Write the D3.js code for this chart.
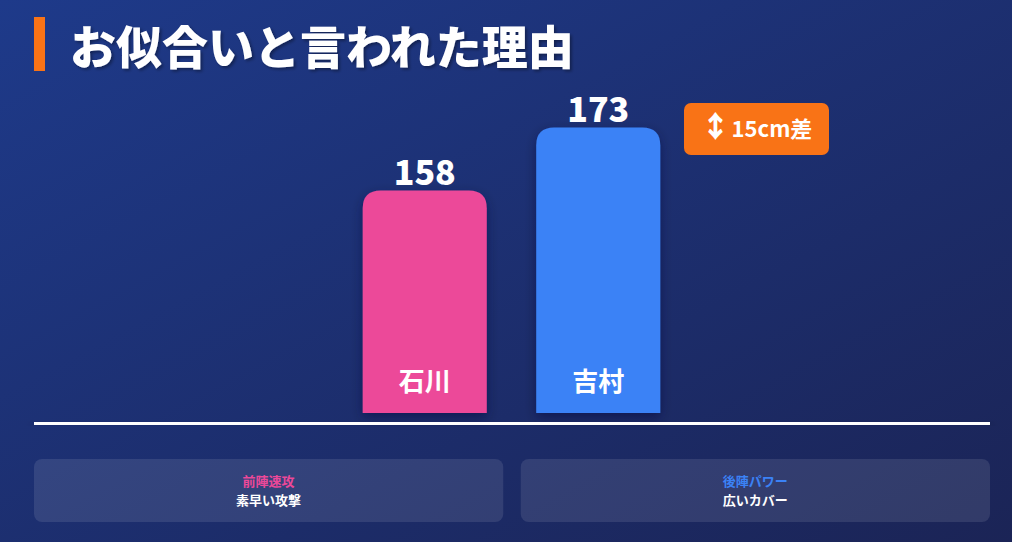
<!DOCTYPE html>
<html>
<head>
<meta charset="utf-8">
<script src="https://cdn.jsdelivr.net/npm/d3@7"></script>
<style>
  body { margin: 0; background: #1c2c6e; overflow: hidden; }
  svg { display: block; font-family: "Noto Sans CJK JP", "Noto Sans", sans-serif; }
</style>
</head>
<body>
<div id="chart"></div>
<script>
// data
var names = ["石川", "吉村"];
var heights = [158, 173];
var barColors = ["#ec4899", "#3b82f6"];
var roles = ["前陣速攻", "後陣パワー"];
var roleNotes = ["素早い攻撃", "広いカバー"];
var titleText = "お似合いと言われた理由";
var diffArrow = "↕";
var diffText = "15cm差";

var W = 1012, H = 542;
var baseY = 413;

var svg = d3.select("#chart").append("svg")
    .attr("width", W)
    .attr("height", H);

var defs = svg.append("defs");
var bg = defs.append("linearGradient")
    .attr("id", "bg")
    .attr("x1", "0%").attr("y1", "0%")
    .attr("x2", "100%").attr("y2", "100%");
bg.append("stop").attr("offset", "0%").attr("stop-color", "#1e3a8a");
bg.append("stop").attr("offset", "100%").attr("stop-color", "#1b2456");

var shadow = defs.append("filter").attr("id", "shadow")
    .attr("x", "-30%").attr("y", "-30%").attr("width", "160%").attr("height", "160%");
shadow.append("feDropShadow")
    .attr("dx", 0).attr("dy", 4).attr("stdDeviation", 6)
    .attr("flood-color", "#0b1030").attr("flood-opacity", 0.45);

var tshadow = defs.append("filter").attr("id", "tshadow")
    .attr("x", "-10%").attr("y", "-30%").attr("width", "120%").attr("height", "160%");
tshadow.append("feDropShadow")
    .attr("dx", 2).attr("dy", 2).attr("stdDeviation", 1.5)
    .attr("flood-color", "#000").attr("flood-opacity", 0.35);

svg.append("rect").attr("width", W).attr("height", H).attr("fill", "url(#bg)");

// title
svg.append("rect")
    .attr("x", 34).attr("y", 17).attr("width", 11).attr("height", 54)
    .attr("fill", "#f97316");
svg.append("text")
    .attr("x", 70).attr("y", 64)
    .attr("fill", "#fff")
    .attr("font-size", 46)
    .attr("font-weight", 900)
    .attr("filter", "url(#tshadow)")
    .text(titleText);

// scales
var x = d3.scaleBand()
    .domain(names)
    .range([338, 685])
    .paddingInner(0.285)
    .paddingOuter(0.1425);
var y = d3.scaleLinear()
    .domain([105, 180])
    .range([baseY, 98]);

function topRounded(x0, y0, w, h, r) {
    return "M" + x0 + "," + (y0 + h) +
        "V" + (y0 + r) +
        "Q" + x0 + "," + y0 + " " + (x0 + r) + "," + y0 +
        "H" + (x0 + w - r) +
        "Q" + (x0 + w) + "," + y0 + " " + (x0 + w) + "," + (y0 + r) +
        "V" + (y0 + h) + "Z";
}

var bars = svg.append("g").selectAll("g")
    .data(names)
    .enter().append("g");

bars.append("path")
    .attr("d", function(d, i) {
        return topRounded(x(d), y(heights[i]), x.bandwidth(), baseY - y(heights[i]), 18);
    })
    .attr("fill", function(d, i) { return barColors[i]; })
    .attr("filter", "url(#shadow)");

bars.append("text")
    .attr("x", function(d) { return x(d) + x.bandwidth() / 2; })
    .attr("y", function(d, i) { return y(heights[i]) - 5; })
    .attr("text-anchor", "middle")
    .attr("fill", "#fff")
    .attr("font-size", 34)
    .attr("font-weight", 900)
    .text(function(d, i) { return heights[i]; });

bars.append("text")
    .attr("x", function(d) { return x(d) + x.bandwidth() / 2; })
    .attr("y", baseY - 22)
    .attr("text-anchor", "middle")
    .attr("fill", "#fff")
    .attr("font-size", 26)
    .attr("font-weight", 700)
    .text(function(d) { return d; });

// baseline
svg.append("rect")
    .attr("x", 34).attr("y", 422).attr("width", 956).attr("height", 3)
    .attr("fill", "#fff")
    .attr("filter", "url(#shadow)");

// difference badge
var badge = svg.append("g").attr("transform", "translate(684,103)");
badge.append("rect")
    .attr("width", 145).attr("height", 52).attr("rx", 7)
    .attr("fill", "#f97316");
var bt = badge.append("text")
    .attr("x", 72.5).attr("y", 34)
    .attr("text-anchor", "middle")
    .attr("fill", "#fff")
    .attr("font-weight", 700);
bt.append("tspan").attr("font-size", 30).attr("font-weight", 900).text(diffArrow);
bt.append("tspan").attr("font-size", 22).attr("dx", 1).text(diffText);

// cards
var cardX = d3.scaleBand().domain(roles).range([34, 990]).paddingInner(0.036);
var cards = svg.append("g").selectAll("g")
    .data(roles)
    .enter().append("g")
    .attr("transform", function(d) { return "translate(" + cardX(d) + ",459)"; });

cards.append("rect")
    .attr("width", cardX.bandwidth()).attr("height", 63).attr("rx", 8)
    .attr("fill", "rgba(255,255,255,0.1)");
cards.append("text")
    .attr("x", cardX.bandwidth() / 2).attr("y", 27)
    .attr("text-anchor", "middle")
    .attr("fill", function(d, i) { return barColors[i]; })
    .attr("font-size", 13)
    .attr("font-weight", 700)
    .text(function(d) { return d; });
cards.append("text")
    .attr("x", cardX.bandwidth() / 2).attr("y", 46)
    .attr("text-anchor", "middle")
    .attr("fill", "#fff")
    .attr("font-size", 13)
    .attr("font-weight", 700)
    .text(function(d, i) { return roleNotes[i]; });
</script>
</body>
</html>
